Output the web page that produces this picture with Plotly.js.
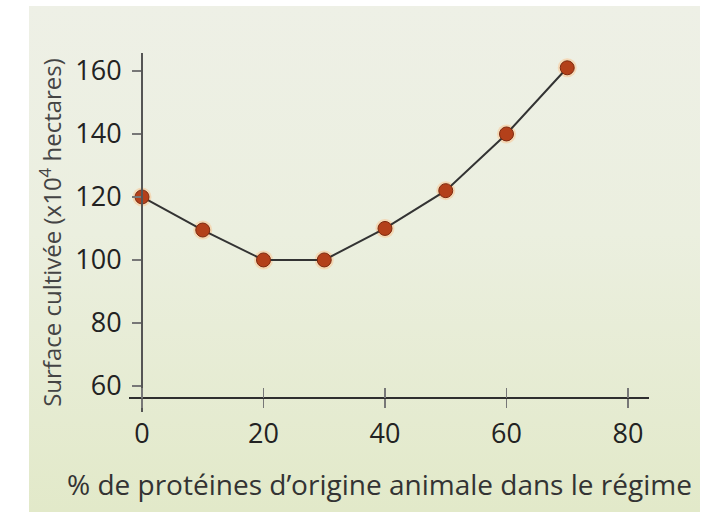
<!DOCTYPE html>
<html>
<head>
<meta charset="utf-8">
<script src="https://cdn.plot.ly/plotly-3.0.1.min.js"></script>
<style>
  html, body { margin: 0; padding: 0; background: #ffffff; }
  #bg { position: absolute; left: 29px; top: 6px; width: 671px; height: 506px;
        background: linear-gradient(to bottom, #eef0e6 0%, #ebefdf 45%, #e2e9c9 100%); }
  #chart { position: absolute; left: 0; top: 0; width: 714px; height: 512px; }
</style>
</head>
<body>
<div id="bg"></div>
<div id="chart"></div>
<script>
const proteinPct = [0, 10, 20, 30, 40, 50, 60, 70];
const surface = [120, 109.5, 100, 100, 110, 122, 140, 161];
const xTicks = [0, 20, 40, 60, 80];
const yTicks = [60, 80, 100, 120, 140, 160];
const xTitle = "% de protéines d’origine animale dans le régime";
const yTitle = "Surface cultivée (x10<sup>4</sup> hectares)";

const fontFam = "Open Sans, Noto Sans, sans-serif";

const traces = [
  {
    x: proteinPct, y: surface, type: "scatter", mode: "markers",
    marker: { size: 19, color: "rgba(248,205,160,0.65)" },
    hoverinfo: "skip", showlegend: false
  },
  {
    x: proteinPct, y: surface, type: "scatter", mode: "lines+markers",
    line: { color: "#333333", width: 2 },
    marker: { size: 14, color: "#b3401a", line: { color: "#7e2a10", width: 1 } },
    showlegend: false
  },
  {
    x: [0], y: [51.73], xaxis: "x2", yaxis: "y", type: "scatter", mode: "markers",
    marker: { size: 1, opacity: 0 }, hoverinfo: "skip", showlegend: false
  }
];

const layout = {
  width: 714, height: 512,
  margin: { l: 129, r: 65, t: 53, b: 100 },
  paper_bgcolor: "rgba(0,0,0,0)",
  plot_bgcolor: "rgba(0,0,0,0)",
  font: { family: fontFam, color: "#222" },
  showlegend: false,
  xaxis: {
    range: [-2.14, 83.46],
    anchor: "free", position: 0.039,
    showline: true, linecolor: "#2e2e2e", linewidth: 2.5,
    showgrid: false, zeroline: false,
    tickvals: xTicks, ticktext: xTicks.map(String),
    ticks: "outside", ticklen: 9, tickcolor: "#777", tickwidth: 1.5,
    ticklabelstandoff: 2,
    tickfont: { size: 27, color: "#222", family: fontFam }
  },
  xaxis2: {
    range: [-2.14, 83.46], overlaying: "x",
    anchor: "free", position: 0.039,
    showline: false, showgrid: false, zeroline: false,
    tickvals: xTicks, showticklabels: false,
    ticks: "inside", ticklen: 10, tickcolor: "#777", tickwidth: 1.5
  },
  yaxis: {
    range: [51.73, 165.7],
    anchor: "free", position: 0.025,
    showline: true, linecolor: "#555", linewidth: 2,
    showgrid: false, zeroline: false,
    tickvals: yTicks, ticktext: yTicks.map(String),
    ticks: "outside", ticklen: 9, tickcolor: "#777", tickwidth: 1.5,
    ticklabelstandoff: 5,
    tickfont: { size: 27, color: "#222", family: fontFam },
    title: { text: yTitle, font: { size: 24, color: "#444", family: fontFam }, standoff: 6 }
  },
  annotations: [
    {
      text: xTitle, xref: "paper", yref: "paper", x: 0.481, y: -0.2,
      xanchor: "center", yanchor: "middle", showarrow: false,
      font: { size: 28, color: "#333", family: fontFam }
    }
  ]
};

Plotly.newPlot("chart", traces, layout, { staticPlot: true });
</script>
</body>
</html>
